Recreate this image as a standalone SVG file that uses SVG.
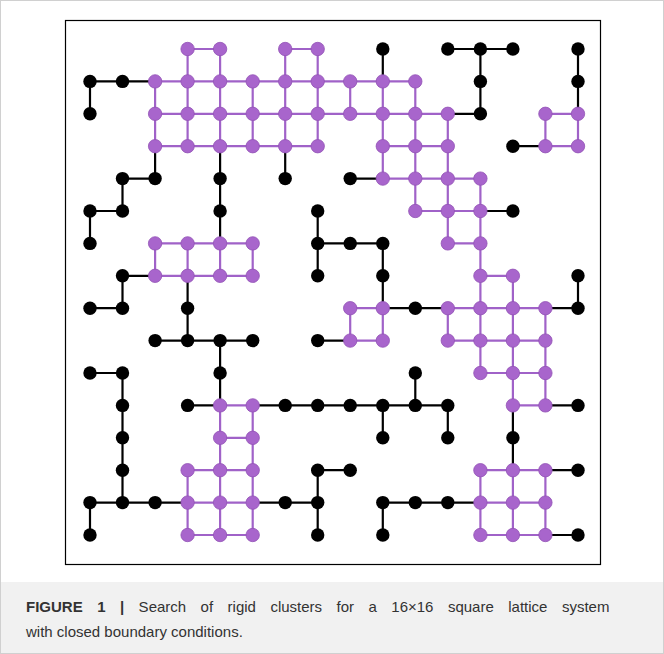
<svg xmlns="http://www.w3.org/2000/svg" width="664" height="654" viewBox="0 0 664 654">
<style>
.frame{fill:none;stroke:#000;stroke-width:1.2}
.eb{fill:none;stroke:#000;stroke-width:2.2;stroke-linecap:butt}
.ep{fill:none;stroke:#a062c8;stroke-width:2.2;stroke-linecap:butt}
.nb{fill:#000}
.np{fill:#a865cc;stroke:#9252b5;stroke-width:0.8}
.cap{font-family:"Liberation Sans",Arial,sans-serif;font-size:15px;fill:#333}
.capb{font-weight:bold}
</style>
<rect x="0.5" y="0.5" width="663" height="653" fill="#fff" stroke="#d0d0d0"/>
<rect x="1" y="582" width="662" height="71" fill="#f1f1f1"/>
<rect class="frame" x="65.5" y="20.5" width="535" height="544"/>
<g id="connectors">
<path class="ep" d="M187.6 49H220.1M285.2 49H317.7M155.1 81.4H415.3M155.1 113.8H447.8M545.4 113.8H578M155.1 146.2H317.7M382.8 146.2H447.8M545.4 146.2H578M382.8 178.6H480.4M415.3 211H480.4M155.1 243.4H252.7M447.8 243.4H480.4M155.1 275.8H252.7M480.4 275.8H512.9M350.2 308.2H382.8M447.8 308.2H545.4M350.2 340.6H382.8M447.8 340.6H545.4M480.4 373H545.4M220.1 405.4H252.7M512.9 405.4H545.4M220.1 437.8H252.7M187.6 470.2H252.7M480.4 470.2H545.4M187.6 502.6H252.7M480.4 502.6H545.4M187.6 535H252.7M480.4 535H545.4"/>
<path class="ep" d="M155.1 81.4V146.2M155.1 243.4V275.8M187.6 49V146.2M187.6 243.4V275.8M187.6 470.2V535M220.1 49V146.2M220.1 243.4V275.8M220.1 405.4V535M252.7 81.4V146.2M252.7 243.4V275.8M252.7 405.4V535M285.2 49V146.2M317.7 49V146.2M350.2 81.4V113.8M350.2 308.2V340.6M382.8 81.4V178.6M382.8 308.2V340.6M415.3 81.4V211M447.8 113.8V243.4M447.8 308.2V340.6M480.4 178.6V373M480.4 470.2V535M512.9 275.8V405.4M512.9 470.2V535M545.4 113.8V146.2M545.4 308.2V405.4M545.4 470.2V535M578 113.8V146.2"/>
<path class="eb" d="M447.8 49H512.9M90 81.4H155.1M447.8 113.8H480.4M512.9 146.2H545.4M122.5 178.6H155.1M350.2 178.6H382.8M90 211H122.5M480.4 211H512.9M317.7 243.4H382.8M122.5 275.8H155.1M90 308.2H122.5M382.8 308.2H447.8M545.4 308.2H578M155.1 340.6H252.7M317.7 340.6H350.2M90 373H122.5M187.6 405.4H220.1M252.7 405.4H447.8M545.4 405.4H578M317.7 470.2H350.2M545.4 470.2H578M90 502.6H187.6M252.7 502.6H317.7M382.8 502.6H480.4M545.4 535H578"/>
<path class="eb" d="M90 81.4V113.8M90 211V243.4M90 502.6V535M122.5 178.6V211M122.5 275.8V308.2M122.5 373V502.6M155.1 146.2V178.6M187.6 275.8V340.6M220.1 146.2V243.4M220.1 340.6V405.4M285.2 146.2V178.6M317.7 211V275.8M317.7 470.2V535M382.8 49V81.4M382.8 243.4V308.2M382.8 405.4V437.8M382.8 502.6V535M415.3 373V405.4M447.8 405.4V437.8M480.4 49V113.8M512.9 405.4V470.2M578 49V113.8M578 275.8V308.2"/>
</g>
<g id="nodes-black">
<circle id="n0-9" class="nb" cx="382.8" cy="49" r="6.7"/><circle id="n0-11" class="nb" cx="447.8" cy="49" r="6.7"/><circle id="n0-12" class="nb" cx="480.4" cy="49" r="6.7"/><circle id="n0-13" class="nb" cx="512.9" cy="49" r="6.7"/><circle id="n0-15" class="nb" cx="578" cy="49" r="6.7"/>
<circle id="n1-0" class="nb" cx="90" cy="81.4" r="6.7"/><circle id="n1-1" class="nb" cx="122.5" cy="81.4" r="6.7"/><circle id="n1-12" class="nb" cx="480.4" cy="81.4" r="6.7"/><circle id="n1-15" class="nb" cx="578" cy="81.4" r="6.7"/>
<circle id="n2-0" class="nb" cx="90" cy="113.8" r="6.7"/><circle id="n2-12" class="nb" cx="480.4" cy="113.8" r="6.7"/>
<circle id="n3-13" class="nb" cx="512.9" cy="146.2" r="6.7"/>
<circle id="n4-1" class="nb" cx="122.5" cy="178.6" r="6.7"/><circle id="n4-2" class="nb" cx="155.1" cy="178.6" r="6.7"/><circle id="n4-4" class="nb" cx="220.1" cy="178.6" r="6.7"/><circle id="n4-6" class="nb" cx="285.2" cy="178.6" r="6.7"/><circle id="n4-8" class="nb" cx="350.2" cy="178.6" r="6.7"/>
<circle id="n5-0" class="nb" cx="90" cy="211" r="6.7"/><circle id="n5-1" class="nb" cx="122.5" cy="211" r="6.7"/><circle id="n5-4" class="nb" cx="220.1" cy="211" r="6.7"/><circle id="n5-7" class="nb" cx="317.7" cy="211" r="6.7"/><circle id="n5-13" class="nb" cx="512.9" cy="211" r="6.7"/>
<circle id="n6-0" class="nb" cx="90" cy="243.4" r="6.7"/><circle id="n6-7" class="nb" cx="317.7" cy="243.4" r="6.7"/><circle id="n6-8" class="nb" cx="350.2" cy="243.4" r="6.7"/><circle id="n6-9" class="nb" cx="382.8" cy="243.4" r="6.7"/>
<circle id="n7-1" class="nb" cx="122.5" cy="275.8" r="6.7"/><circle id="n7-7" class="nb" cx="317.7" cy="275.8" r="6.7"/><circle id="n7-9" class="nb" cx="382.8" cy="275.8" r="6.7"/><circle id="n7-15" class="nb" cx="578" cy="275.8" r="6.7"/>
<circle id="n8-0" class="nb" cx="90" cy="308.2" r="6.7"/><circle id="n8-1" class="nb" cx="122.5" cy="308.2" r="6.7"/><circle id="n8-3" class="nb" cx="187.6" cy="308.2" r="6.7"/><circle id="n8-10" class="nb" cx="415.3" cy="308.2" r="6.7"/><circle id="n8-15" class="nb" cx="578" cy="308.2" r="6.7"/>
<circle id="n9-2" class="nb" cx="155.1" cy="340.6" r="6.7"/><circle id="n9-3" class="nb" cx="187.6" cy="340.6" r="6.7"/><circle id="n9-4" class="nb" cx="220.1" cy="340.6" r="6.7"/><circle id="n9-5" class="nb" cx="252.7" cy="340.6" r="6.7"/><circle id="n9-7" class="nb" cx="317.7" cy="340.6" r="6.7"/>
<circle id="n10-0" class="nb" cx="90" cy="373" r="6.7"/><circle id="n10-1" class="nb" cx="122.5" cy="373" r="6.7"/><circle id="n10-4" class="nb" cx="220.1" cy="373" r="6.7"/><circle id="n10-10" class="nb" cx="415.3" cy="373" r="6.7"/>
<circle id="n11-1" class="nb" cx="122.5" cy="405.4" r="6.7"/><circle id="n11-3" class="nb" cx="187.6" cy="405.4" r="6.7"/><circle id="n11-6" class="nb" cx="285.2" cy="405.4" r="6.7"/><circle id="n11-7" class="nb" cx="317.7" cy="405.4" r="6.7"/><circle id="n11-8" class="nb" cx="350.2" cy="405.4" r="6.7"/><circle id="n11-9" class="nb" cx="382.8" cy="405.4" r="6.7"/><circle id="n11-10" class="nb" cx="415.3" cy="405.4" r="6.7"/><circle id="n11-11" class="nb" cx="447.8" cy="405.4" r="6.7"/><circle id="n11-15" class="nb" cx="578" cy="405.4" r="6.7"/>
<circle id="n12-1" class="nb" cx="122.5" cy="437.8" r="6.7"/><circle id="n12-9" class="nb" cx="382.8" cy="437.8" r="6.7"/><circle id="n12-11" class="nb" cx="447.8" cy="437.8" r="6.7"/><circle id="n12-13" class="nb" cx="512.9" cy="437.8" r="6.7"/>
<circle id="n13-1" class="nb" cx="122.5" cy="470.2" r="6.7"/><circle id="n13-7" class="nb" cx="317.7" cy="470.2" r="6.7"/><circle id="n13-8" class="nb" cx="350.2" cy="470.2" r="6.7"/><circle id="n13-15" class="nb" cx="578" cy="470.2" r="6.7"/>
<circle id="n14-0" class="nb" cx="90" cy="502.6" r="6.7"/><circle id="n14-1" class="nb" cx="122.5" cy="502.6" r="6.7"/><circle id="n14-2" class="nb" cx="155.1" cy="502.6" r="6.7"/><circle id="n14-6" class="nb" cx="285.2" cy="502.6" r="6.7"/><circle id="n14-7" class="nb" cx="317.7" cy="502.6" r="6.7"/><circle id="n14-9" class="nb" cx="382.8" cy="502.6" r="6.7"/><circle id="n14-10" class="nb" cx="415.3" cy="502.6" r="6.7"/><circle id="n14-11" class="nb" cx="447.8" cy="502.6" r="6.7"/>
<circle id="n15-0" class="nb" cx="90" cy="535" r="6.7"/><circle id="n15-7" class="nb" cx="317.7" cy="535" r="6.7"/><circle id="n15-9" class="nb" cx="382.8" cy="535" r="6.7"/><circle id="n15-15" class="nb" cx="578" cy="535" r="6.7"/>
</g>
<g id="nodes-purple">
<circle id="n0-3" class="np" cx="187.6" cy="49" r="6.7"/><circle id="n0-4" class="np" cx="220.1" cy="49" r="6.7"/><circle id="n0-6" class="np" cx="285.2" cy="49" r="6.7"/><circle id="n0-7" class="np" cx="317.7" cy="49" r="6.7"/>
<circle id="n1-2" class="np" cx="155.1" cy="81.4" r="6.7"/><circle id="n1-3" class="np" cx="187.6" cy="81.4" r="6.7"/><circle id="n1-4" class="np" cx="220.1" cy="81.4" r="6.7"/><circle id="n1-5" class="np" cx="252.7" cy="81.4" r="6.7"/><circle id="n1-6" class="np" cx="285.2" cy="81.4" r="6.7"/><circle id="n1-7" class="np" cx="317.7" cy="81.4" r="6.7"/><circle id="n1-8" class="np" cx="350.2" cy="81.4" r="6.7"/><circle id="n1-9" class="np" cx="382.8" cy="81.4" r="6.7"/><circle id="n1-10" class="np" cx="415.3" cy="81.4" r="6.7"/>
<circle id="n2-2" class="np" cx="155.1" cy="113.8" r="6.7"/><circle id="n2-3" class="np" cx="187.6" cy="113.8" r="6.7"/><circle id="n2-4" class="np" cx="220.1" cy="113.8" r="6.7"/><circle id="n2-5" class="np" cx="252.7" cy="113.8" r="6.7"/><circle id="n2-6" class="np" cx="285.2" cy="113.8" r="6.7"/><circle id="n2-7" class="np" cx="317.7" cy="113.8" r="6.7"/><circle id="n2-8" class="np" cx="350.2" cy="113.8" r="6.7"/><circle id="n2-9" class="np" cx="382.8" cy="113.8" r="6.7"/><circle id="n2-10" class="np" cx="415.3" cy="113.8" r="6.7"/><circle id="n2-11" class="np" cx="447.8" cy="113.8" r="6.7"/><circle id="n2-14" class="np" cx="545.4" cy="113.8" r="6.7"/><circle id="n2-15" class="np" cx="578" cy="113.8" r="6.7"/>
<circle id="n3-2" class="np" cx="155.1" cy="146.2" r="6.7"/><circle id="n3-3" class="np" cx="187.6" cy="146.2" r="6.7"/><circle id="n3-4" class="np" cx="220.1" cy="146.2" r="6.7"/><circle id="n3-5" class="np" cx="252.7" cy="146.2" r="6.7"/><circle id="n3-6" class="np" cx="285.2" cy="146.2" r="6.7"/><circle id="n3-7" class="np" cx="317.7" cy="146.2" r="6.7"/><circle id="n3-9" class="np" cx="382.8" cy="146.2" r="6.7"/><circle id="n3-10" class="np" cx="415.3" cy="146.2" r="6.7"/><circle id="n3-11" class="np" cx="447.8" cy="146.2" r="6.7"/><circle id="n3-14" class="np" cx="545.4" cy="146.2" r="6.7"/><circle id="n3-15" class="np" cx="578" cy="146.2" r="6.7"/>
<circle id="n4-9" class="np" cx="382.8" cy="178.6" r="6.7"/><circle id="n4-10" class="np" cx="415.3" cy="178.6" r="6.7"/><circle id="n4-11" class="np" cx="447.8" cy="178.6" r="6.7"/><circle id="n4-12" class="np" cx="480.4" cy="178.6" r="6.7"/>
<circle id="n5-10" class="np" cx="415.3" cy="211" r="6.7"/><circle id="n5-11" class="np" cx="447.8" cy="211" r="6.7"/><circle id="n5-12" class="np" cx="480.4" cy="211" r="6.7"/>
<circle id="n6-2" class="np" cx="155.1" cy="243.4" r="6.7"/><circle id="n6-3" class="np" cx="187.6" cy="243.4" r="6.7"/><circle id="n6-4" class="np" cx="220.1" cy="243.4" r="6.7"/><circle id="n6-5" class="np" cx="252.7" cy="243.4" r="6.7"/><circle id="n6-11" class="np" cx="447.8" cy="243.4" r="6.7"/><circle id="n6-12" class="np" cx="480.4" cy="243.4" r="6.7"/>
<circle id="n7-2" class="np" cx="155.1" cy="275.8" r="6.7"/><circle id="n7-3" class="np" cx="187.6" cy="275.8" r="6.7"/><circle id="n7-4" class="np" cx="220.1" cy="275.8" r="6.7"/><circle id="n7-5" class="np" cx="252.7" cy="275.8" r="6.7"/><circle id="n7-12" class="np" cx="480.4" cy="275.8" r="6.7"/><circle id="n7-13" class="np" cx="512.9" cy="275.8" r="6.7"/>
<circle id="n8-8" class="np" cx="350.2" cy="308.2" r="6.7"/><circle id="n8-9" class="np" cx="382.8" cy="308.2" r="6.7"/><circle id="n8-11" class="np" cx="447.8" cy="308.2" r="6.7"/><circle id="n8-12" class="np" cx="480.4" cy="308.2" r="6.7"/><circle id="n8-13" class="np" cx="512.9" cy="308.2" r="6.7"/><circle id="n8-14" class="np" cx="545.4" cy="308.2" r="6.7"/>
<circle id="n9-8" class="np" cx="350.2" cy="340.6" r="6.7"/><circle id="n9-9" class="np" cx="382.8" cy="340.6" r="6.7"/><circle id="n9-11" class="np" cx="447.8" cy="340.6" r="6.7"/><circle id="n9-12" class="np" cx="480.4" cy="340.6" r="6.7"/><circle id="n9-13" class="np" cx="512.9" cy="340.6" r="6.7"/><circle id="n9-14" class="np" cx="545.4" cy="340.6" r="6.7"/>
<circle id="n10-12" class="np" cx="480.4" cy="373" r="6.7"/><circle id="n10-13" class="np" cx="512.9" cy="373" r="6.7"/><circle id="n10-14" class="np" cx="545.4" cy="373" r="6.7"/>
<circle id="n11-4" class="np" cx="220.1" cy="405.4" r="6.7"/><circle id="n11-5" class="np" cx="252.7" cy="405.4" r="6.7"/><circle id="n11-13" class="np" cx="512.9" cy="405.4" r="6.7"/><circle id="n11-14" class="np" cx="545.4" cy="405.4" r="6.7"/>
<circle id="n12-4" class="np" cx="220.1" cy="437.8" r="6.7"/><circle id="n12-5" class="np" cx="252.7" cy="437.8" r="6.7"/>
<circle id="n13-3" class="np" cx="187.6" cy="470.2" r="6.7"/><circle id="n13-4" class="np" cx="220.1" cy="470.2" r="6.7"/><circle id="n13-5" class="np" cx="252.7" cy="470.2" r="6.7"/><circle id="n13-12" class="np" cx="480.4" cy="470.2" r="6.7"/><circle id="n13-13" class="np" cx="512.9" cy="470.2" r="6.7"/><circle id="n13-14" class="np" cx="545.4" cy="470.2" r="6.7"/>
<circle id="n14-3" class="np" cx="187.6" cy="502.6" r="6.7"/><circle id="n14-4" class="np" cx="220.1" cy="502.6" r="6.7"/><circle id="n14-5" class="np" cx="252.7" cy="502.6" r="6.7"/><circle id="n14-12" class="np" cx="480.4" cy="502.6" r="6.7"/><circle id="n14-13" class="np" cx="512.9" cy="502.6" r="6.7"/><circle id="n14-14" class="np" cx="545.4" cy="502.6" r="6.7"/>
<circle id="n15-3" class="np" cx="187.6" cy="535" r="6.7"/><circle id="n15-4" class="np" cx="220.1" cy="535" r="6.7"/><circle id="n15-5" class="np" cx="252.7" cy="535" r="6.7"/><circle id="n15-12" class="np" cx="480.4" cy="535" r="6.7"/><circle id="n15-13" class="np" cx="512.9" cy="535" r="6.7"/><circle id="n15-14" class="np" cx="545.4" cy="535" r="6.7"/>
</g>
<g id="caption">
<text class="cap" x="26" y="612" word-spacing="10.3"><tspan class="capb">FIGURE 1 |</tspan> Search of rigid clusters for a 16×16 square lattice system</text>
<text class="cap" x="26" y="637">with closed boundary conditions.</text>
</g>
</svg>
